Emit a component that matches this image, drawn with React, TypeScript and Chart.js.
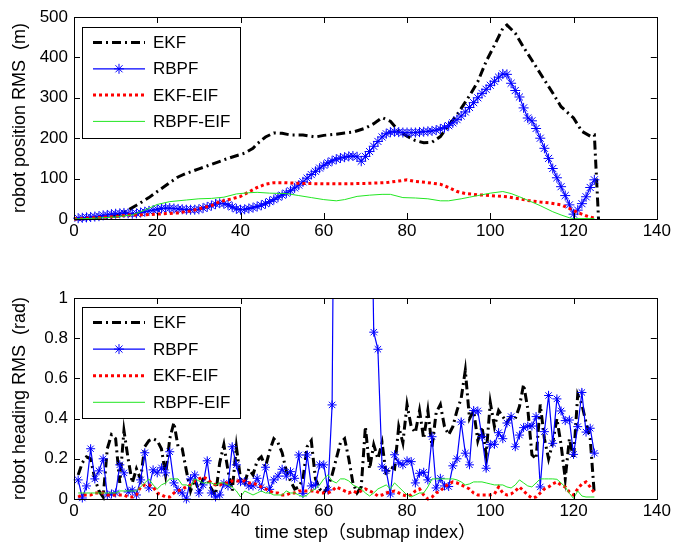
import React, { useEffect, useRef } from "react";
import { Chart, registerables } from "chart.js";

Chart.register(...registerables);

const FONT = '"Liberation Sans", Arial, "Noto Sans CJK SC", sans-serif';

// ---------- tick labels / categories ----------
const xTickValues = [0, 20, 40, 60, 80, 100, 120, 140];
const posTickValues = [0, 100, 200, 300, 400, 500];
const headTickValues = [0, 0.2, 0.4, 0.6, 0.8, 1];
const seriesNames = ["EKF", "RBPF", "EKF-EIF", "RBPF-EIF"];
const steps = Array.from({ length: 125 }, (_, i) => i + 1);

// ---------- top: robot position RMS (m) ----------
const topEkfX = [0, 5, 10, 12, 15, 18, 20, 23, 25, 27, 30, 33, 37, 41, 43, 44, 46, 48, 50, 52, 55, 58, 60, 63, 65, 67, 70, 72, 74, 76, 78, 80, 82, 84, 86, 88, 90, 92, 95, 97, 99, 101, 103, 104, 106, 108, 110, 113, 115, 117, 120, 122, 124, 125, 126];
const topEkfY = [0, 2, 8, 16, 34, 53, 68, 90, 104, 113, 124, 135, 150, 163, 175, 186, 203, 213, 212, 208, 208, 203, 207, 210, 213, 215, 225, 236, 251, 242, 218, 205, 194, 189, 190, 204, 232, 258, 305, 340, 390, 430, 472, 480, 460, 425, 393, 344, 312, 278, 250, 217, 205, 208, 0];

const topRbpf = [
  2, 3, 4, 5, 6, 7, 9, 10, 12, 13,
  14, 15, 14, 13, 14, 16, 18, 20, 22, 24,
  26, 27, 27, 26, 25, 24, 23, 23, 23, 24,
  27, 30, 33, 37, 39, 38, 35, 30, 25, 23,
  24, 26, 28, 31, 34, 38, 43, 48, 54, 59,
  64, 70, 77, 84, 92, 101, 110, 118, 126, 133,
  139, 144, 148, 151, 153, 155, 156, 154, 143, 155,
  167, 180, 192, 203, 211, 215, 216, 215, 214, 214,
  214, 214, 215, 216, 217, 218, 220, 223, 226, 231,
  238, 246, 255, 265, 276, 288, 300, 311, 321, 331,
  341, 351, 359, 358, 336, 318, 302, 275, 250, 243,
  224, 200, 175, 150, 125, 102, 80, 58, 35, 12,
  22, 38, 55, 78, 97,
];

const topEkfEifX = [0, 5, 10, 13, 16, 20, 25, 28, 30, 33, 35, 38, 40, 42, 44, 46, 48, 50, 55, 60, 65, 70, 75, 78, 80, 82, 85, 88, 90, 92, 94, 97, 100, 104, 107, 109, 112, 114, 117, 119, 121, 123, 125];
const topEkfEifY = [0, 3, 6, 10, 10, 12, 15, 20, 25, 33, 43, 50, 56, 67, 78, 86, 90, 90, 88, 87, 87, 88, 90, 94, 97, 93, 90, 86, 78, 68, 63, 60, 58, 55, 50, 46, 42, 40, 35, 26, 16, 8, 2];

const topRbpfEifX = [0, 5, 10, 14, 17, 20, 23, 27, 30, 33, 36, 39, 42, 44, 47, 51, 54, 57, 60, 63, 65, 68, 71, 74, 76, 79, 82, 85, 88, 90, 93, 95, 97, 100, 103, 105, 107, 110, 112, 115, 117, 119, 120, 125];
const topRbpfEifY = [0, 2, 5, 10, 22, 36, 43, 47, 50, 51, 54, 62, 65, 66, 64, 63, 58, 53, 48, 45, 48, 56, 59, 61, 61, 53, 52, 50, 45, 45, 50, 54, 58, 64, 68, 63, 55, 42, 33, 18, 10, 3, 1, 1];

// ---------- bottom: robot heading RMS (rad), steps 1..125 ----------
const headEkf = [
  0.12, 0.18, 0.21, 0.2, 0.1, 0.04, 0.01, 0.25, 0.32, 0.3,
  0.08, 0.34, 0.2, 0.08, 0.15, 0.1, 0.26, 0.29, 0.3, 0.29,
  0.25, 0.12, 0.3, 0.38, 0.26, 0.25, 0.14, 0.04, 0.1, 0.04,
  0.1, 0.1, 0.05, 0.02, 0.18, 0.27, 0.14, 0.04, 0.26, 0.1,
  0.08, 0.15, 0.12, 0.19, 0.21, 0.16, 0.24, 0.3, 0.28, 0.23,
  0.14, 0.09, 0.05, 0.06, 0.1, 0.26, 0.29, 0.1, 0.05, 0.03,
  0.06, 0.12, 0.2, 0.28, 0.3, 0.2, 0.08, 0.03, 0.06, 0.36,
  0.15, 0.27, 0.2, 0.28, 0.12, 0.16, 0.15, 0.36, 0.28, 0.47,
  0.36, 0.33, 0.44, 0.3, 0.44, 0.26, 0.43, 0.47, 0.36, 0.32,
  0.36, 0.44, 0.5, 0.64, 0.4, 0.44, 0.29, 0.36, 0.22, 0.48,
  0.36, 0.44, 0.41, 0.38, 0.41, 0.4, 0.46, 0.57, 0.45, 0.22,
  0.2, 0.47, 0.3, 0.2, 0.28, 0.4, 0.27, 0.1, 0.3, 0.2,
  0.52, 0.47, 0.38, 0.3, 0.02,
];
const headRbpf = [
  0.095, 0.005, 0.065, 0.25, 0.1, 0.14, 0.2, 0.02, 0.025, 0.03,
  0.17, 0.13, 0.035, 0.045, 0.02, 0.095, 0.23, 0.055, 0.145, 0.13,
  0.155, 0.13, 0.235, 0.08, 0.045, 0.03, 0.0, 0.1, 0.12, 0.03,
  0.07, 0.19, 0.03, 0.01, 0.02, 0.078, 0.065, 0.26, 0.17, 0.086,
  0.086, 0.065, 0.065, 0.103, 0.058, 0.158, 0.048, 0.095, 0.114, 0.148,
  0.114, 0.136, 0.103, 0.219, 0.028, 0.219, 0.065, 0.07, 0.17, 0.17,
  0.045, 0.468, 3.2, 4.1, 5.0, 4.4, 3.8, 4.6, 3.9, 3.0,
  2.2, 0.83, 0.745, 0.16, 0.14, 0.025, 0.22, 0.18, 0.17, 0.19,
  0.186, 0.08, 0.128, 0.133, 0.095, 0.31, 0.055, 0.103, 0.065, 0.062,
  0.165, 0.2, 0.383, 0.228, 0.17, 0.44, 0.438, 0.31, 0.153, 0.272,
  0.272, 0.33, 0.3, 0.378, 0.41, 0.26, 0.318, 0.355, 0.363, 0.363,
  0.41, 0.06, 0.335, 0.515, 0.277, 0.498, 0.438, 0.39, 0.393, 0.222,
  0.36, 0.53, 0.333, 0.352, 0.228,
];
const headEkfEif = [
  0.01, 0.02, 0.02, 0.02, 0.03, 0.03, 0.03, 0.02, 0.02, 0.02,
  0.02, 0.02, 0.01, 0.01, 0.02, 0.06, 0.07, 0.07, 0.06, 0.03,
  0.02, 0.01, 0.01, 0.03, 0.04, 0.05, 0.06, 0.07, 0.09, 0.1,
  0.11, 0.1, 0.08, 0.07, 0.07, 0.08, 0.08, 0.09, 0.09, 0.09,
  0.09, 0.08, 0.08, 0.07, 0.06, 0.05, 0.04, 0.03, 0.03, 0.02,
  0.02, 0.03, 0.03, 0.04, 0.04, 0.04, 0.04, 0.04, 0.03, 0.03,
  0.03, 0.04, 0.06, 0.05, 0.04, 0.03, 0.04, 0.03, 0.04, 0.05,
  0.04, 0.03, 0.015, 0.02, 0.03, 0.035, 0.04, 0.03, 0.02, 0.015,
  0.02, 0.04, 0.05, 0.02, 0.0, 0.01, 0.03, 0.04, 0.06, 0.075,
  0.085, 0.08, 0.07, 0.06, 0.05, 0.03, 0.02, 0.02, 0.02, 0.02,
  0.025, 0.06, 0.03, 0.02, 0.025, 0.04, 0.06, 0.04, 0.02, 0.005,
  0.01, 0.03, 0.05, 0.06, 0.075, 0.085, 0.07, 0.06, 0.035, 0.02,
  0.05, 0.075, 0.085, 0.06, 0.03,
];
const headRbpfEif = [
  0.03, 0.03, 0.03, 0.03, 0.03, 0.03, 0.03, 0.03, 0.03, 0.03,
  0.04, 0.04, 0.04, 0.04, 0.04, 0.06, 0.08, 0.1, 0.07, 0.05,
  0.07, 0.08, 0.1, 0.1, 0.1, 0.07, 0.07, 0.06, 0.1, 0.09,
  0.08, 0.08, 0.08, 0.07, 0.08, 0.08, 0.07, 0.06, 0.04, 0.01,
  0.04, 0.03, 0.02, 0.03, 0.04, 0.03, 0.03, 0.02, 0.02, 0.02,
  0.04, 0.03, 0.03, 0.02, 0.01, 0.02, 0.04, 0.05, 0.07, 0.1,
  0.12, 0.09, 0.08, 0.1, 0.1, 0.09, 0.07, 0.06, 0.05, 0.03,
  0.015, 0.03, 0.05, 0.06, 0.07, 0.05, 0.08, 0.06, 0.04, 0.02,
  0.01, 0.02, 0.03, 0.03, 0.06, 0.1, 0.1, 0.1, 0.1, 0.1,
  0.1, 0.095, 0.085, 0.07, 0.075, 0.085, 0.085, 0.085, 0.08, 0.075,
  0.07, 0.07, 0.07, 0.06, 0.055, 0.07, 0.095, 0.08, 0.065, 0.06,
  0.08, 0.1, 0.1, 0.1, 0.1, 0.098, 0.08, 0.06, 0.028, 0.003,
  0.04, 0.015, 0.01, 0.01, 0.01,
];

// ---------- styles ----------
const seriesStyles = [
  { color: "#000000", width: 3, dash: [9, 4, 2, 4], marker: false, order: 3 },
  { color: "#0000ff", width: 1.2, dash: [] as number[], marker: true, order: 2 },
  { color: "#ff0000", width: 3, dash: [3, 3], marker: false, order: 1 },
  { color: "#22e622", width: 1, dash: [] as number[], marker: false, order: 0 },
];

function drawStar(ctx: CanvasRenderingContext2D, x: number, y: number, r: number, color: string) {
  ctx.save();
  ctx.strokeStyle = color;
  ctx.lineWidth = 1;
  ctx.setLineDash([]);
  ctx.beginPath();
  for (let k = 0; k < 4; k++) {
    const a = (k * Math.PI) / 4;
    ctx.moveTo(x - r * Math.cos(a), y - r * Math.sin(a));
    ctx.lineTo(x + r * Math.cos(a), y + r * Math.sin(a));
  }
  ctx.stroke();
  ctx.restore();
}

function framePlugin(id: string, yTicks: number[], legendTop: number, rowGap: number) {
  return {
    id,
    afterDraw(chart: any) {
      const ctx: CanvasRenderingContext2D = chart.ctx;
      const { left, right, top, bottom } = chart.chartArea;
      const xs = chart.scales.x;
      const ys = chart.scales.y;
      ctx.save();
      ctx.strokeStyle = "#000";
      ctx.lineWidth = 1;
      ctx.setLineDash([]);
      ctx.beginPath();
      xTickValues.forEach((v) => {
        const px = Math.round(xs.getPixelForValue(v)) + 0.5;
        ctx.moveTo(px, bottom);
        ctx.lineTo(px, bottom - 6);
        ctx.moveTo(px, top);
        ctx.lineTo(px, top + 6);
      });
      yTicks.forEach((v) => {
        const py = Math.round(ys.getPixelForValue(v)) + 0.5;
        ctx.moveTo(left, py);
        ctx.lineTo(left + 6, py);
        ctx.moveTo(right, py);
        ctx.lineTo(right - 6, py);
      });
      ctx.stroke();
      ctx.strokeRect(Math.round(left) + 0.5, Math.round(top) + 0.5, Math.round(right - left), Math.round(bottom - top));
      // legend
      const bx = Math.round(left) + 8;
      const by = Math.round(top) + legendTop;
      const bw = 158;
      const bh = 111;
      ctx.fillStyle = "#fff";
      ctx.fillRect(bx, by, bw, bh);
      ctx.strokeStyle = "#000";
      ctx.lineWidth = 1;
      ctx.strokeRect(bx + 0.5, by + 0.5, bw, bh);
      seriesNames.forEach((name, i) => {
        const s = seriesStyles[i];
        const y = by + 15.5 + i * rowGap;
        ctx.beginPath();
        ctx.setLineDash(s.dash);
        ctx.lineWidth = s.width;
        ctx.strokeStyle = s.color;
        ctx.moveTo(bx + 11, y);
        ctx.lineTo(bx + 63, y);
        ctx.stroke();
        ctx.setLineDash([]);
        if (s.marker) drawStar(ctx, bx + 37, y, 5, s.color);
        ctx.fillStyle = "#000";
        ctx.font = `17px ${FONT}`;
        ctx.textBaseline = "middle";
        ctx.textAlign = "left";
        ctx.fillText(name, bx + 71, y + 1);
      });
      ctx.restore();
    },
  };
}

function makeDataset(i: number, points: { x: number; y: number }[], markerRadius: number) {
  const s = seriesStyles[i];
  return {
    label: seriesNames[i],
    data: points,
    borderColor: s.color,
    backgroundColor: s.color,
    borderWidth: s.width,
    borderDash: s.dash,
    borderCapStyle: "butt" as const,
    pointStyle: s.marker ? ("star" as const) : ("circle" as const),
    pointRadius: s.marker ? markerRadius : 0,
    pointBorderColor: s.color,
    pointBorderWidth: 1,
    pointBackgroundColor: "transparent",
    tension: 0,
    fill: false,
    order: s.order,
    clip: { left: 8, top: 0, right: 8, bottom: 8 },
  };
}

function pairs(xs: number[], ys: number[]) {
  return xs.map((x, k) => ({ x, y: ys[k] }));
}

function axisTicks(values: number[]) {
  return (scale: any) => {
    scale.ticks = values.map((v) => ({ value: v }));
  };
}

function baseOptions(opts: {
  padTop: number;
  xHeight: number;
  yMax: number;
  yTicks: number[];
  yTitle: string;
  xTitle?: string;
}) {
  const tickFont = { size: 17, family: FONT };
  return {
    responsive: false,
    animation: false as const,
    devicePixelRatio: 1,
    layout: { padding: { top: opts.padTop, right: 16, left: 0, bottom: 0 } },
    plugins: { legend: { display: false }, tooltip: { enabled: false } },
    scales: {
      x: {
        type: "linear" as const,
        min: 0,
        max: 140,
        afterBuildTicks: axisTicks(xTickValues),
        afterFit: (s: any) => {
          s.height = opts.xHeight;
        },
        grid: { display: false, drawTicks: false },
        border: { display: false },
        ticks: {
          font: tickFont,
          color: "#000",
          padding: 2,
          maxRotation: 0,
          autoSkip: false,
          callback: (v: any) => String(v),
        },
        title: opts.xTitle
          ? {
              display: true,
              text: opts.xTitle,
              color: "#000",
              font: { size: 18, family: FONT },
              padding: { top: 0, bottom: 3 },
            }
          : { display: false },
      },
      y: {
        type: "linear" as const,
        min: 0,
        max: opts.yMax,
        afterBuildTicks: axisTicks(opts.yTicks),
        afterFit: (s: any) => {
          s.width = 74;
        },
        grid: { display: false, drawTicks: false },
        border: { display: false },
        ticks: {
          font: tickFont,
          color: "#000",
          padding: 6,
          autoSkip: false,
          callback: (v: any) => String(v),
        },
        title: {
          display: true,
          text: opts.yTitle,
          color: "#000",
          font: { size: 18, family: FONT },
          padding: { top: 9, bottom: 0 },
        },
      },
    },
  };
}

export default function App() {
  const topRef = useRef<HTMLCanvasElement | null>(null);
  const botRef = useRef<HTMLCanvasElement | null>(null);

  useEffect(() => {
    const top = new Chart(topRef.current as HTMLCanvasElement, {
      type: "line",
      data: {
        datasets: [
          makeDataset(0, pairs(topEkfX, topEkfY), 0),
          makeDataset(1, pairs(steps, topRbpf), 5),
          makeDataset(2, pairs(topEkfEifX, topEkfEifY), 0),
          makeDataset(3, pairs(topRbpfEifX, topRbpfEifY), 0),
        ],
      },
      options: baseOptions({
        padTop: 17,
        xHeight: 265 - 219,
        yMax: 500,
        yTicks: posTickValues,
        yTitle: "robot position RMS  (m)",
      }) as any,
      plugins: [framePlugin("frameTop", posTickValues, 10, 26.3)],
    });
    const bot = new Chart(botRef.current as HTMLCanvasElement, {
      type: "line",
      data: {
        datasets: [
          makeDataset(0, pairs(steps, headEkf), 0),
          makeDataset(1, pairs(steps, headRbpf), 4.5),
          makeDataset(2, pairs(steps, headEkfEif), 0),
          makeDataset(3, pairs(steps, headRbpfEif), 0),
        ],
      },
      options: baseOptions({
        padTop: 298 - 265,
        xHeight: 547 - 499,
        yMax: 1,
        yTicks: headTickValues,
        yTitle: "robot heading RMS  (rad)",
        xTitle: "time step（submap index）",
      }) as any,
      plugins: [framePlugin("frameBottom", headTickValues, 9, 26.6)],
    });
    return () => {
      top.destroy();
      bot.destroy();
    };
  }, []);

  return (
    <div style={{ position: "absolute", left: 0, top: 0, width: 673, height: 547, background: "#fff" }}>
      <canvas ref={topRef} width={673} height={265} style={{ position: "absolute", left: 0, top: 0, width: 673, height: 265 }} />
      <canvas ref={botRef} width={673} height={282} style={{ position: "absolute", left: 0, top: 265, width: 673, height: 282 }} />
    </div>
  );
}
